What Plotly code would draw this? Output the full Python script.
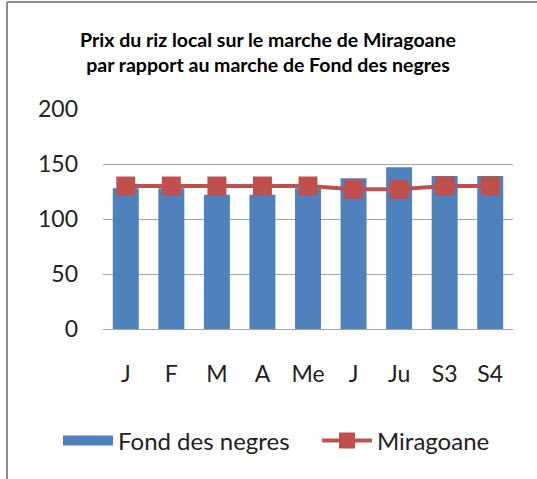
import plotly.graph_objects as go

categories = ["J", "F", "M", "A", "Me", "J ", "Ju", "S3", "S4"]
tick_labels = ["J", "F", "M", "A", "Me", "J", "Ju", "S3", "S4"]
fond_des_negres = [128, 128, 122, 122, 128, 137, 147, 139, 139]
miragoane = [130, 130, 130, 130, 130, 127, 127, 130, 130]

W, H = 537, 479
L, R, T, B = 103, 24, 109, 150
pw = W - L - R
ph = H - T - B

def px_x(p):
    return (p - L) / pw

def px_y(p):
    return (H - B - p) / ph

FONT = "Lato"
BLUE = "#4F81BD"
RED = "#C0504D"

fig = go.Figure()
fig.add_trace(go.Bar(
    x=categories, y=fond_des_negres, name="Fond des negres",
    marker=dict(color=BLUE, line=dict(width=0)), showlegend=False,
))
# legend entry for the bars (wide swatch like the original)
fig.add_trace(go.Scatter(
    x=[None], y=[None], name="Fond des negres", mode="lines",
    line=dict(color=BLUE, width=15), legend="legend",
))
fig.add_trace(go.Scatter(
    x=categories, y=miragoane, name="Miragoane", mode="lines+markers",
    line=dict(color=RED, width=4),
    marker=dict(symbol="square", size=19, color=RED),
    legend="legend2",
))

legend_common = dict(
    orientation="h", yanchor="middle", y=px_y(441),
    xanchor="left", font=dict(size=24, color="#222222"),
    itemwidth=50, bgcolor="rgba(0,0,0,0)",
)

fig.update_layout(
    width=W, height=H,
    margin=dict(l=L, r=R, t=T, b=B),
    paper_bgcolor="white", plot_bgcolor="white",
    bargap=0.43,
    font=dict(family=FONT, color="#222222"),
    title=dict(
        text="<b>Prix du riz local sur le marche de Miragoane<br>par rapport au marche de Fond des negres</b>",
        x=px_x(268), xref="paper", xanchor="center",
        y=1 - 47 / H, yref="container", yanchor="middle",
        font=dict(family=FONT, size=19.5, color="#000000"),
    ),
    xaxis=dict(
        tickmode="array", tickvals=categories, ticktext=tick_labels,
        range=[-0.5, len(categories) - 0.5], autorange=False,
        showgrid=False, showline=True, linecolor="#A6A6A6", linewidth=1,
        tickfont=dict(size=23, color="#222222"),
        ticklabelstandoff=24,
    ),
    yaxis=dict(
        range=[0, 200], tickvals=[0, 50, 100, 150, 200],
        showgrid=True, gridcolor="#A6A6A6", gridwidth=1,
        zeroline=False, showline=False,
        tickfont=dict(size=23, color="#222222"),
        ticklabelstandoff=24,
    ),
    legend=dict(legend_common, x=px_x(58)),
    legend2=dict(legend_common, x=px_x(317)),
    showlegend=True,
    shapes=[
        dict(type="line", xref="paper", yref="paper",
             x0=px_x(7), x1=px_x(W + 5), y0=px_y(2), y1=px_y(2),
             line=dict(color="#8C8C8C", width=2)),
        dict(type="line", xref="paper", yref="paper",
             x0=px_x(7), x1=px_x(7), y0=px_y(2), y1=px_y(H + 5),
             line=dict(color="#8C8C8C", width=2)),
    ],
)

fig.write_html("out.html", config={"displayModeBar": False},
               post_script="document.body.style.margin='0';")
